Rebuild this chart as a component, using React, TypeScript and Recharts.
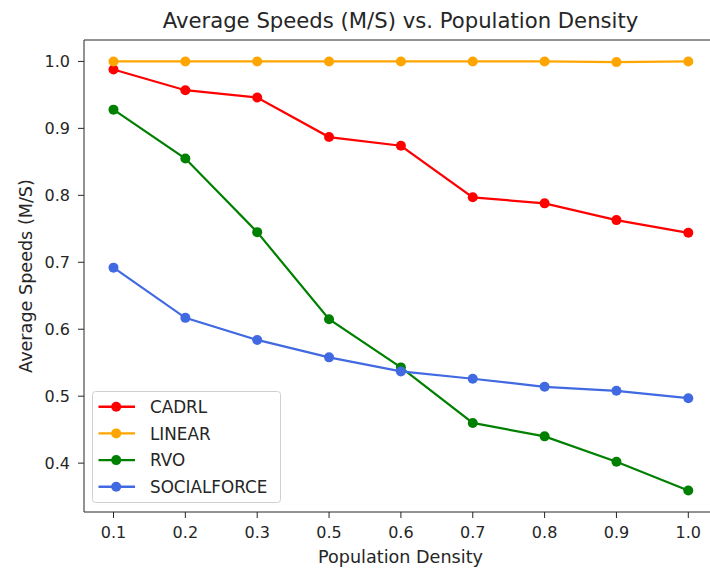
import { Label, Legend, Line, LineChart, XAxis, YAxis } from 'recharts'

const density = ['0.1', '0.2', '0.3', '0.5', '0.6', '0.7', '0.8', '0.9', '1.0']
const cadrl = [0.988, 0.957, 0.946, 0.887, 0.874, 0.797, 0.788, 0.763, 0.744]
const linear = [1.0, 1.0, 1.0, 1.0, 1.0, 1.0, 1.0, 0.999, 1.0]
const rvo = [0.928, 0.855, 0.745, 0.615, 0.543, 0.46, 0.44, 0.402, 0.359]
const socialforce = [0.692, 0.617, 0.584, 0.558, 0.537, 0.526, 0.514, 0.508, 0.497]
const yTicks = [0.4, 0.5, 0.6, 0.7, 0.8, 0.9, 1.0]

const series = [
  { key: 'CADRL', values: cadrl, color: '#ff0000' },
  { key: 'LINEAR', values: linear, color: '#ffa500' },
  { key: 'RVO', values: rvo, color: '#008000' },
  { key: 'SOCIALFORCE', values: socialforce, color: '#4169e1' },
]

const data = density.map((d, i) => {
  const row: Record<string, string | number> = { density: d }
  series.forEach((s) => (row[s.key] = s.values[i]))
  return row
})

const FONT = '"DejaVu Sans", sans-serif'
const AXIS = '#262626'

function LegendBox({ payload }: any) {
  const items = (payload || []) as { value: string; color: string }[]
  return (
    <svg width={189} height={112} style={{ display: 'block' }}>
      <rect x={0.5} y={0.5} width={188} height={111} rx={3} fill="rgba(255,255,255,0.8)" stroke="#d0d0d0" />
      {items.map((it, i) => {
        const cy = 15.7 + i * 26.7
        return (
          <g key={it.value}>
            <line x1={6.5} x2={43} y1={cy} y2={cy} stroke={it.color} strokeWidth={2.4} />
            <circle cx={24.2} cy={cy} r={5} fill={it.color} />
            <text x={58} y={cy + 6.1} fontSize={16.8} fontFamily={FONT} fill={AXIS}>
              {it.value}
            </text>
          </g>
        )
      })}
    </svg>
  )
}

export default function App() {
  return (
    <div style={{ position: 'absolute', left: 0, top: 0, width: 710, height: 570, overflow: 'hidden', background: '#fff' }}>
      <LineChart width={720} height={570} data={data} margin={{ top: 0, right: 0, bottom: 0, left: 0 }}>
        <XAxis
          dataKey="density"
          xAxisId="bottom"
          height={58}
          padding={{ left: 29.5, right: 28.7 }}
          tickSize={6}
          tickMargin={9}
          stroke={AXIS}
          tick={{ fontSize: 16, fontFamily: FONT, fill: AXIS }}
          interval={0}
        >
          <Label value="Population Density" position="center" dy={16} fontSize={17.6} fontFamily={FONT} fill={AXIS} />
        </XAxis>
        <XAxis
          dataKey="density"
          xAxisId="top"
          orientation="top"
          height={40}
          padding={{ left: 29.5, right: 28.7 }}
          tick={false}
          tickLine={false}
          stroke={AXIS}
        >
          <Label
            value="Average Speeds (M/S) vs. Population Density"
            position="center"
            dy={0}
            fontSize={21.2}
            fontFamily={FONT}
            fill={AXIS}
          />
        </XAxis>
        <YAxis
          yAxisId="left"
          width={84}
          type="number"
          domain={[0.327, 1.032]}
          ticks={yTicks}
          allowDataOverflow
          tickSize={6}
          tickMargin={8}
          stroke={AXIS}
          tickFormatter={(v: number) => v.toFixed(1)}
          tick={{ fontSize: 16, fontFamily: FONT, fill: AXIS }}
        >
          <Label
            value="Average Speeds (M/S)"
            angle={-90}
            position="center"
            dx={-16.5}
            fontSize={17.6}
            fontFamily={FONT}
            fill={AXIS}
          />
        </YAxis>
        <YAxis
          yAxisId="right"
          orientation="right"
          width={3}
          type="number"
          domain={[0.327, 1.032]}
          tick={false}
          tickLine={false}
          stroke={AXIS}
        />
        <Legend
          layout="vertical"
          align="center"
          verticalAlign="middle"
          wrapperStyle={{ left: 92, top: 391, width: 189, height: 112 }}
          content={<LegendBox />}
        />
        {series.map((s) => (
          <Line
            key={s.key}
            xAxisId="bottom"
            yAxisId="left"
            dataKey={s.key}
            name={s.key}
            stroke={s.color}
            strokeWidth={2.2}
            dot={{ r: 5, fill: s.color, stroke: s.color, strokeWidth: 0 }}
            activeDot={false}
            isAnimationActive={false}
          />
        ))}
      </LineChart>
    </div>
  )
}
